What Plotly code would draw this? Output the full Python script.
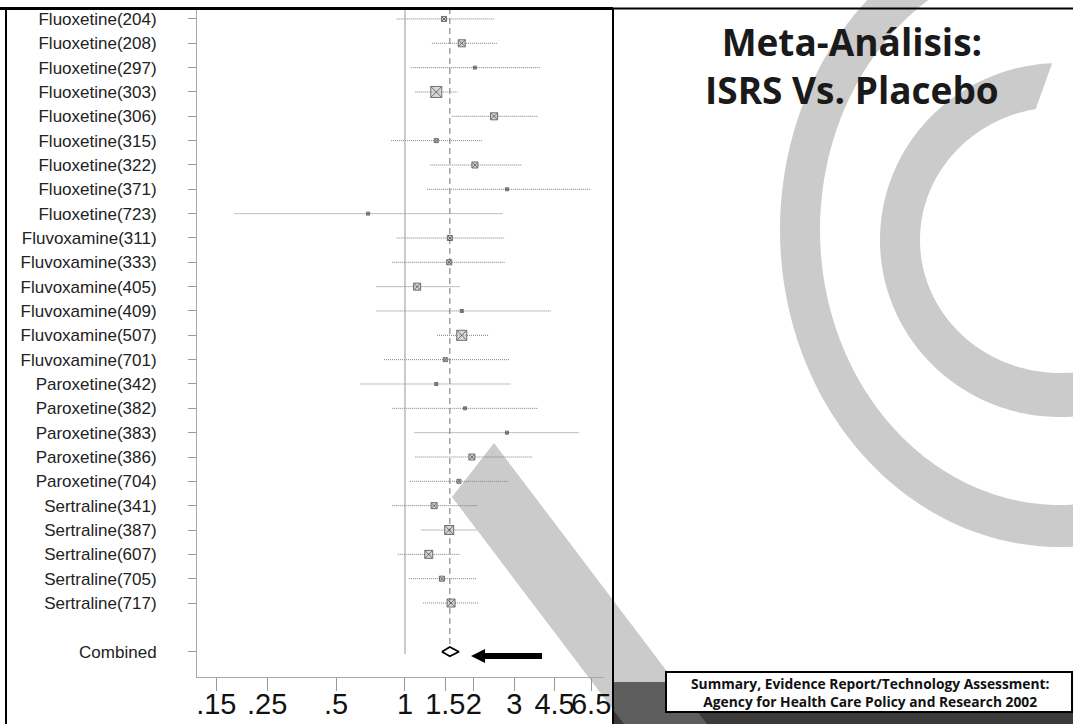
import math
import plotly.graph_objects as go

W, H = 1073, 724

# ---------------- data ----------------
studies = [
    "Fluoxetine(204)", "Fluoxetine(208)", "Fluoxetine(297)", "Fluoxetine(303)",
    "Fluoxetine(306)", "Fluoxetine(315)", "Fluoxetine(322)", "Fluoxetine(371)",
    "Fluoxetine(723)", "Fluvoxamine(311)", "Fluvoxamine(333)", "Fluvoxamine(405)",
    "Fluvoxamine(409)", "Fluvoxamine(507)", "Fluvoxamine(701)", "Paroxetine(342)",
    "Paroxetine(382)", "Paroxetine(383)", "Paroxetine(386)", "Paroxetine(704)",
    "Sertraline(341)", "Sertraline(387)", "Sertraline(607)", "Sertraline(705)",
    "Sertraline(717)",
]
odds_ratio = [1.48, 1.77, 2.02, 1.37, 2.45, 1.37, 2.02, 2.79, 0.69, 1.57, 1.56, 1.13,
              1.77, 1.77, 1.50, 1.37, 1.83, 2.79, 1.96, 1.72, 1.34, 1.56, 1.27, 1.45, 1.59]
ci_low = [0.92, 1.31, 1.06, 1.11, 1.60, 0.87, 1.29, 1.25, 0.18, 0.92, 0.88, 0.75,
          0.75, 1.38, 0.81, 0.64, 0.88, 1.10, 1.11, 1.05, 0.88, 1.18, 0.93, 1.04, 1.20]
ci_high = [2.45, 2.52, 3.89, 1.70, 3.81, 2.17, 3.24, 6.43, 2.68, 2.73, 2.73, 1.74,
           4.34, 2.33, 2.85, 2.90, 3.81, 5.75, 3.59, 2.82, 2.08, 2.06, 1.74, 2.06, 2.10]
weight_pct = [2.8, 5.5, 1.0, 13.5, 5.5, 1.8, 4.0, 1.0, 1.0, 2.8, 2.8, 5.5,
              1.0, 11.2, 1.8, 1.0, 1.0, 1.0, 4.0, 1.8, 4.0, 9.0, 7.1, 2.8, 7.1]

combined_label = "Combined"
combined_or = 1.57
combined_low = 1.45
combined_high = 1.72

tick_values = [0.15, 0.25, 0.5, 1, 1.5, 2, 3, 4.5, 6.5]
tick_labels = [".15", ".25", ".5", "1", "1.5", "2", "3", "4.5", "6.5"]

title_lines = ["Meta-Análisis:", "ISRS Vs. Placebo"]
source_lines = ["Summary, Evidence Report/Technology Assessment:",
                "Agency for Health Care Policy and Research 2002"]

# ---------------- geometry helpers (pixel -> paper) ----------------
def px(x):
    return x / W


def py(y):
    return 1 - y / H


def poly_path(points):
    return "M " + " L ".join(f"{px(x):.5f},{py(y):.5f}" for x, y in points) + " Z"


def ellipse_pts(cx, cy, a, b, t0, t1, n=160):
    out = []
    for i in range(n + 1):
        t = math.radians(t0 + (t1 - t0) * i / n)
        out.append((cx + a * math.cos(t), cy + b * math.sin(t)))
    return out


def ring_path(cx, cy, a_out, b_out, a_in, b_in, to0, to1, ti0, ti1):
    outer = ellipse_pts(cx, cy, a_out, b_out, to0, to1)
    inner = ellipse_pts(cx, cy, a_in, b_in, ti1, ti0)
    return poly_path(outer + inner)


PLOT_L, PLOT_R, PLOT_T, PLOT_B = 197, 604, 8, 677
ROW_TOP, ROW_BOTTOM = -0.45, 27.04
rows = list(range(len(studies)))
combined_row = len(studies) + 1

GREY = "#cbcbcb"
LINE_GREY = "#7e7e7e"

fig = go.Figure()

# confidence intervals
ci_x, ci_y = [], []
for r, lo, hi in zip(rows, ci_low, ci_high):
    ci_x += [lo, hi, None]
    ci_y += [r, r, None]
fig.add_trace(go.Scatter(x=ci_x, y=ci_y, mode="lines",
                         line=dict(color=LINE_GREY, width=1, dash="1px,1px"),
                         hoverinfo="skip", showlegend=False))

# null line and pooled-estimate line
fig.add_trace(go.Scatter(x=[1, 1], y=[ROW_TOP, combined_row + 0.1], mode="lines",
                         line=dict(color="#a8a8a8", width=1.2),
                         hoverinfo="skip", showlegend=False))
fig.add_trace(go.Scatter(x=[combined_or, combined_or], y=[ROW_TOP, combined_row - 0.25],
                         mode="lines",
                         line=dict(color="#8a8a8a", width=1.2, dash="6px,4px"),
                         hoverinfo="skip", showlegend=False))

# study estimates, box area proportional to weight
fig.add_trace(go.Scatter(
    x=odds_ratio, y=rows, mode="markers",
    marker=dict(symbol="square-x", size=[3 * math.sqrt(w) for w in weight_pct],
                color="#c8c8c8", line=dict(color="#333333", width=1)),
    hoverinfo="skip", showlegend=False))

# pooled diamond
h = 0.19
fig.add_trace(go.Scatter(
    x=[combined_low, combined_or, combined_high, combined_or, combined_low],
    y=[combined_row, combined_row - h, combined_row, combined_row + h, combined_row],
    mode="lines", fill="toself", fillcolor="white",
    line=dict(color="black", width=1.8),
    hoverinfo="skip", showlegend=False))

# ---------------- decorative background ----------------
shapes = []
band = [(494, 443), (452, 497), (452 + (760 - 497) / 1.32, 760), (494 + (760 - 443) / 1.32, 760)]
shapes.append(dict(type="path", xref="paper", yref="paper", layer="below",
                   path=poly_path(band), fillcolor=GREY, line=dict(width=0)))
shapes.append(dict(type="path", xref="paper", yref="paper", layer="below",
                   path=ring_path(1060, 230, 280, 317, 240, 275, 30, 300, 30, 300),
                   fillcolor=GREY, line=dict(width=0)))
shapes.append(dict(type="path", xref="paper", yref="paper", layer="below",
                   path=ring_path(1060, 240, 180, 177, 140, 133, 30, 267.5, 30, 260),
                   fillcolor=GREY, line=dict(width=0)))
# dark footer strip
shapes.append(dict(type="rect", xref="paper", yref="paper", layer="below",
                   x0=px(613), x1=px(W), y0=py(H), y1=py(682),
                   fillcolor="#3a3a3a", line=dict(width=0)))
streak = [(613, 682), (675, 682), (707, 724), (624, 724), (613, 709.5)]
shapes.append(dict(type="path", xref="paper", yref="paper", layer="below",
                   path=poly_path(streak), fillcolor="#5e5e5e", line=dict(width=0)))

# frame lines
shapes.append(dict(type="line", xref="paper", yref="paper", layer="above",
                   x0=0, x1=px(613), y0=py(8.5), y1=py(8.5), line=dict(color="black", width=3)))
shapes.append(dict(type="line", xref="paper", yref="paper", layer="above",
                   x0=px(613), x1=1, y0=py(8.5), y1=py(8.5), line=dict(color="black", width=2)))
shapes.append(dict(type="line", xref="paper", yref="paper", layer="above",
                   x0=px(6), x1=px(6), y0=py(8), y1=0, line=dict(color="black", width=2)))
shapes.append(dict(type="line", xref="paper", yref="paper", layer="above",
                   x0=px(613), x1=px(613), y0=py(8), y1=0, line=dict(color="black", width=2)))

# source box
shapes.append(dict(type="rect", xref="paper", yref="paper", layer="above",
                   x0=px(666), x1=px(1072), y0=py(712), y1=py(672),
                   fillcolor="white", line=dict(color="black", width=2)))

# arrow pointing at the pooled estimate
arrow = [(471, 656), (485, 649), (485, 653), (542, 653), (542, 659), (485, 659), (485, 663)]
shapes.append(dict(type="path", xref="paper", yref="paper", layer="above",
                   path=poly_path(arrow), fillcolor="black", line=dict(width=0)))

annotations = [
    dict(xref="paper", yref="paper", x=px(852), y=py(14), xanchor="center", yanchor="top",
         text="<br>".join(title_lines), showarrow=False, align="center",
         font=dict(family="Open Sans", size=37, color="#1a1a1a", weight="bold")),
    dict(xref="paper", yref="paper", x=px(870), y=py(692), xanchor="center", yanchor="middle",
         text="<br>".join(source_lines), showarrow=False, align="center",
         font=dict(family="Open Sans", size=13.8, color="#111", weight="bold")),
]

fig.update_layout(
    width=W, height=H, margin=dict(l=0, r=0, t=0, b=0),
    paper_bgcolor="white", plot_bgcolor="rgba(0,0,0,0)",
    shapes=shapes, annotations=annotations, showlegend=False,
    xaxis=dict(
        type="log", domain=[px(PLOT_L), px(PLOT_R)],
        range=[math.log10(0.1235), math.log10(7.4)],
        tickvals=tick_values, ticktext=tick_labels, tickangle=0, automargin=False,
        ticks="outside", ticklen=13, tickcolor="#9a9a9a", tickwidth=1,
        showline=True, linecolor="#a8a8a8", linewidth=1,
        showgrid=False, zeroline=False, ticklabelstandoff=-12,
        tickfont=dict(family="Liberation Sans", size=29, color="#111"),
    ),
    yaxis=dict(
        domain=[py(PLOT_B), py(PLOT_T)], range=[ROW_BOTTOM, ROW_TOP], automargin=False,
        tickvals=rows + [combined_row], ticktext=studies + [combined_label],
        ticks="outside", ticklen=8, tickcolor="#9a9a9a", tickwidth=1,
        showline=True, linecolor="#a8a8a8", linewidth=1,
        showgrid=False, zeroline=False, ticklabelstandoff=28,
        tickfont=dict(family="Liberation Sans", size=17, color="#222"),
    ),
)

fig.write_html("out.html")
